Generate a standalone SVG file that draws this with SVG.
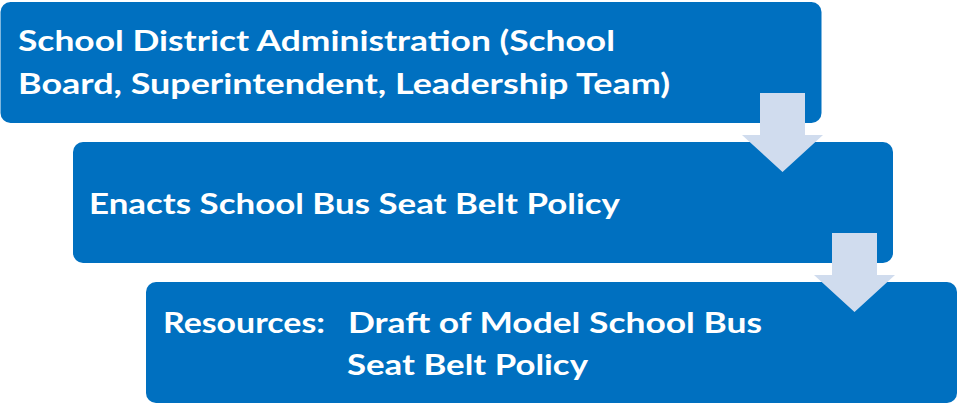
<svg xmlns="http://www.w3.org/2000/svg" width="959" height="406" viewBox="0 0 959 406">
<style>
.box{fill:#0070C0;}
.arrow{fill:#D0DCEE;}
.t{font-family:"Lato","Open Sans","Liberation Sans",sans-serif;font-weight:700;font-size:29px;fill:#FFFFFF;}
</style>
<rect width="959" height="406" fill="#FFFFFF"/>
<g id="node1">
<rect class="box" x="0.5" y="2" width="821" height="121" rx="10"/>
<text class="t" x="18" y="51" textLength="597" lengthAdjust="spacingAndGlyphs">School District Administration (School</text>
<text class="t" x="18" y="94" textLength="652" lengthAdjust="spacingAndGlyphs">Board, Superintendent, Leadership Team)</text>
</g>
<g id="node2">
<rect class="box" x="73" y="142" width="820" height="121" rx="10"/>
<text class="t" x="89" y="214" textLength="531" lengthAdjust="spacingAndGlyphs">Enacts School Bus Seat Belt Policy</text>
</g>
<g id="node3">
<rect class="box" x="146" y="282" width="811" height="121" rx="10"/>
<text class="t" y="333"><tspan x="163" textLength="162" lengthAdjust="spacingAndGlyphs">Resources:</tspan><tspan x="348" textLength="414" lengthAdjust="spacingAndGlyphs">Draft of Model School Bus</tspan></text>
<text class="t" x="347" y="375" textLength="241" lengthAdjust="spacingAndGlyphs">Seat Belt Policy</text>
</g>
<g id="connectors">
<path class="arrow" d="M760,93 H805 V135 H823 L782.5,172 L742,135 H760 Z"/>
<path class="arrow" d="M832,233 H877 V275 H895 L854.5,312 L814,275 H832 Z"/>
</g>
</svg>
